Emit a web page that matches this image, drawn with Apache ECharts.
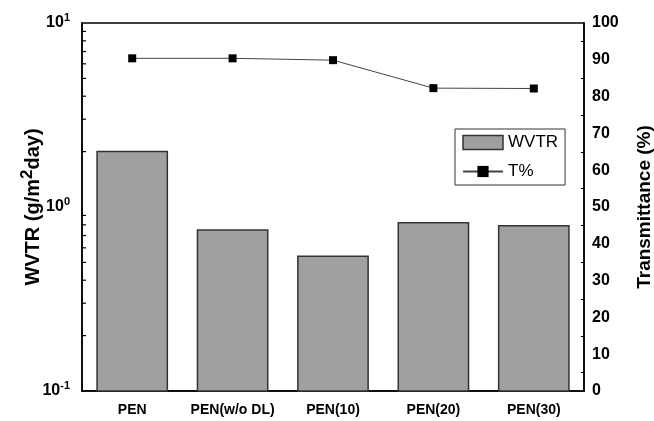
<!DOCTYPE html>
<html>
<head>
<meta charset="utf-8">
<script src="https://cdn.jsdelivr.net/npm/echarts@6/dist/echarts.min.js"></script>
<style>
	html, body { margin: 0; padding: 0; background: #fff; }
	#chart { width: 654px; height: 421px; }
</style>
</head>
<body>
<div id="chart"></div>
<script>
//Chart data
let categories = ['PEN', 'PEN(w/o DL)', 'PEN(10)', 'PEN(20)', 'PEN(30)'];
let wvtr = [2.0, 0.75, 0.54, 0.82, 0.79];
let transmittance = [90.4, 90.4, 89.9, 82.3, 82.2];
//Log axis minor ticks (2..9 in each decade)
let logMinorTicks = [0.2, 0.3, 0.4, 0.5, 0.6, 0.7, 0.8, 0.9, 2, 3, 4, 5, 6, 7, 8, 9];
let wvtrMin = 0.1;
let wvtrMax = 10;

let font = 'Arial, "Liberation Sans", sans-serif';

let chart = echarts.init(document.getElementById('chart'));

let option = {
	animation: false,
	backgroundColor: '#fff',
	grid: {
		left: 82,
		right: 70,
		top: 23,
		bottom: 30,
		outerBoundsMode: 'none',
		containLabel: false,
		show: true,
		borderColor: '#000',
		borderWidth: 1.5
	},
	legend: {
		orient: 'vertical',
		left: 455,
		top: 129,
		itemWidth: 40,
		itemHeight: 14,
		itemGap: 12,
		padding: [5, 7, 5, 7],
		borderColor: '#333',
		borderWidth: 1,
		textStyle: { fontFamily: font, fontSize: 17, color: '#000' },
		data: [
			{ name: 'WVTR', icon: 'rect', itemStyle: { color: '#a0a0a0', borderColor: '#333', borderWidth: 1.5 } },
			{ name: 'T%' }
		]
	},
	xAxis: {
		type: 'category',
		data: categories,
		boundaryGap: true,
		axisLine: { lineStyle: { color: '#000', width: 1.5 } },
		axisTick: { show: false },
		axisLabel: { interval: 0, fontFamily: font, fontSize: 14, fontWeight: 'bold', color: '#000', margin: 12 }
	},
	yAxis: [{
		type: 'log',
		logBase: 10,
		min: wvtrMin,
		max: wvtrMax,
		name: 'WVTR (g/m{s|2}day)',
		nameLocation: 'middle',
		nameGap: 35,
		nameMoveOverlap: false,
		nameTextStyle: {
			fontFamily: font, fontSize: 20, fontWeight: 'bold', color: '#000', lineHeight: 28,
			rich: {
				s: { fontFamily: font, fontSize: 17, fontWeight: 'bold', color: '#000', verticalAlign: 'top', lineHeight: 14 }
			}
		},
		axisLine: { show: true, lineStyle: { color: '#000', width: 1.5 } },
		axisTick: { inside: true, length: 6, lineStyle: { color: '#000', width: 1.5 } },
		splitLine: { show: false },
		axisLabel: {
			margin: 12,
			formatter: function (value) {
				let e = Math.round(Math.log10(value));
				return '{b|10}{s|' + e + '}';
			},
			rich: {
				b: { fontFamily: font, fontSize: 16, fontWeight: 'bold', color: '#000', lineHeight: 22 },
				s: { fontFamily: font, fontSize: 11, fontWeight: 'bold', color: '#000', verticalAlign: 'top', lineHeight: 11 }
			}
		}
	}, {
		type: 'value',
		min: 0,
		max: 100,
		interval: 10,
		name: 'Transmittance (%)',
		nameLocation: 'middle',
		nameGap: 51,
		nameMoveOverlap: false,
		nameTextStyle: { fontFamily: font, fontSize: 19, fontWeight: 'bold', color: '#000' },
		axisLine: { show: true, lineStyle: { color: '#000', width: 1.5 } },
		axisTick: { inside: true, length: 5, lineStyle: { color: '#000', width: 1.5 } },
		minorTick: { show: true, splitNumber: 2, length: 3, lineStyle: { color: '#000', width: 1 } },
		splitLine: { show: false },
		axisLabel: { fontFamily: font, fontSize: 16, fontWeight: 'bold', color: '#000', margin: 8 }
	}],
	series: [{
		name: 'WVTR',
		type: 'custom',
		yAxisIndex: 0,
		itemStyle: { color: '#a0a0a0', borderColor: '#333', borderWidth: 1.5 },
		data: categories.map(function (c, i) { return [i, wvtr[i]]; }),
		renderItem: function (params, api) {
			let top = api.coord([api.value(0), api.value(1)]);
			let base = api.coord([api.value(0), wvtrMin]);
			let w = api.size([1, 0])[0] * 0.7;
			return {
				type: 'rect',
				shape: { x: top[0] - w / 2, y: top[1], width: w, height: base[1] - top[1] },
				style: api.style()
			};
		},
		z: 2
	}, {
		name: 'T%',
		type: 'line',
		yAxisIndex: 1,
		data: transmittance,
		symbol: 'rect',
		symbolSize: 8,
		lineStyle: { color: '#444', width: 1 },
		itemStyle: { color: '#000' },
		z: 5
	}, {
		//Minor ticks for the log axis, drawn through the axis scale
		name: 'logMinor',
		type: 'custom',
		yAxisIndex: 0,
		silent: true,
		data: logMinorTicks.map(function (v) { return [0, v]; }),
		renderItem: function (params, api) {
			let p = api.coord([0, api.value(1)]);
			let x0 = params.coordSys.x;
			return {
				type: 'line',
				shape: { x1: x0, y1: p[1], x2: x0 + 4, y2: p[1] },
				style: { stroke: '#000', lineWidth: 1.2 }
			};
		},
		z: 6
	}]
};

chart.setOption(option);
</script>
</body>
</html>
